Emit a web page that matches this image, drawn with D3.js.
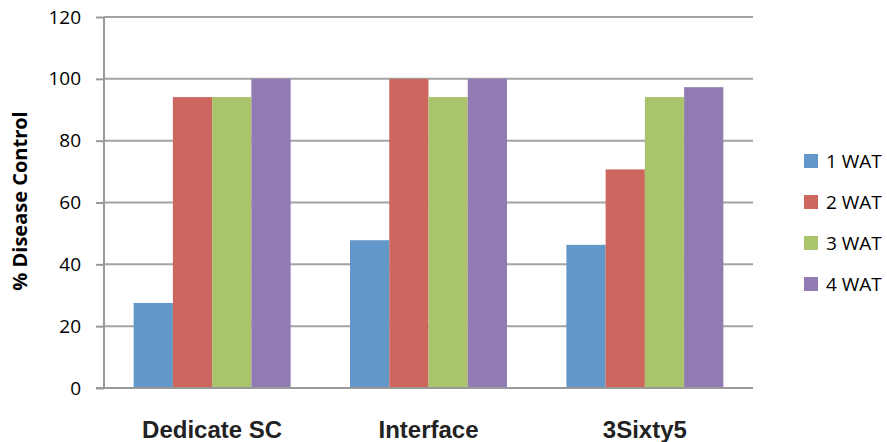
<!DOCTYPE html>
<html lang="en">
<head>
  <meta charset="UTF-8">
  <title>% Disease Control by product and weeks after treatment</title>
  <script src="https://cdnjs.cloudflare.com/ajax/libs/d3/7.8.5/d3.min.js"></script>
  <style>
    body { margin: 0; background: #fff; }
    #chart { width: 887px; height: 442px; }
    .tick-label { font-family: "Open Sans", Lato, sans-serif; font-size: 19px; fill: #000; }
    .cat-label { font-family: "Liberation Sans", Arial, sans-serif; font-weight: bold; font-size: 24px; fill: #222; }
    .y-title { font-family: "Open Sans", Lato, sans-serif; font-weight: bold; font-size: 20px; fill: #000; }
    .legend text { font-family: "Open Sans", Lato, sans-serif; font-size: 19px; fill: #000; }
  </style>
</head>
<body>
  <div id="chart"></div>
  <script>
    // data
    const products = ["Dedicate SC", "Interface", "3Sixty5"];
    const series = ["1 WAT", "2 WAT", "3 WAT", "4 WAT"];
    const wat1 = [27.5, 47.8, 46.3];
    const wat2 = [94.1, 100, 70.7];
    const wat3 = [94.1, 94.1, 94.1];
    const wat4 = [100, 100, 97.3];
    const yTicks = [0, 20, 40, 60, 80, 100, 120];
    const colors = ["#6197c9", "#cd665f", "#aac46b", "#927ab2"];

    const values = [wat1, wat2, wat3, wat4];
    const rows = products.map((p, i) => ({
      product: p,
      vals: series.map((s, j) => ({ key: s, value: values[j][i] }))
    }));

    const W = 887, H = 442;
    const plot = { left: 104, right: 753, top: 17, bottom: 388 };

    const svg = d3.select("#chart").append("svg")
      .attr("width", W)
      .attr("height", H);

    const x0 = d3.scaleBand()
      .domain(products)
      .range([plot.left, plot.right])
      .paddingInner(0.2745)
      .paddingOuter(0.137);

    const x1 = d3.scaleBand()
      .domain(series)
      .range([0, x0.bandwidth()]);

    const y = d3.scaleLinear()
      .domain([0, 120])
      .range([plot.bottom, plot.top]);

    const color = d3.scaleOrdinal().domain(series).range(colors);

    // y axis ticks + labels
    const yAxis = svg.append("g")
      .attr("transform", `translate(${plot.left},0)`)
      .call(d3.axisLeft(y).tickValues(yTicks).tickSize(8).tickPadding(15));
    yAxis.attr("font-size", null).attr("font-family", null);
    yAxis.select(".domain").remove();
    yAxis.selectAll(".tick line").attr("stroke", "#999").attr("stroke-width", 2);
    yAxis.selectAll(".tick text").attr("class", "tick-label");

    // gridlines
    svg.append("g")
      .selectAll("line")
      .data(yTicks.filter(d => d > 0))
      .join("line")
      .attr("x1", plot.left)
      .attr("x2", plot.right)
      .attr("y1", d => y(d))
      .attr("y2", d => y(d))
      .attr("stroke", "#a3a3a3")
      .attr("stroke-width", 2);

    // bars
    svg.append("g")
      .selectAll("g")
      .data(rows)
      .join("g")
      .attr("transform", d => `translate(${x0(d.product)},0)`)
      .selectAll("rect")
      .data(d => d.vals)
      .join("rect")
      .attr("x", d => x1(d.key))
      .attr("y", d => y(d.value))
      .attr("width", x1.bandwidth())
      .attr("height", d => y(0) - y(d.value))
      .attr("fill", d => color(d.key));

    // axis lines
    svg.append("line")
      .attr("x1", plot.left).attr("x2", plot.left)
      .attr("y1", plot.top).attr("y2", plot.bottom)
      .attr("stroke", "#999").attr("stroke-width", 2);
    svg.append("line")
      .attr("x1", plot.left - 8).attr("x2", plot.right)
      .attr("y1", plot.bottom).attr("y2", plot.bottom)
      .attr("stroke", "#999").attr("stroke-width", 2);

    // category labels
    svg.append("g")
      .selectAll("text")
      .data(products)
      .join("text")
      .attr("class", "cat-label")
      .attr("x", d => x0(d) + x0.bandwidth() / 2)
      .attr("y", 438)
      .attr("text-anchor", "middle")
      .text(d => d);

    // y title
    svg.append("text")
      .attr("class", "y-title")
      .attr("transform", "translate(27,201) rotate(-90)")
      .attr("text-anchor", "middle")
      .text("% Disease Control");

    // legend
    const legend = svg.append("g")
      .attr("class", "legend")
      .selectAll("g")
      .data(series)
      .join("g")
      .attr("transform", (d, i) => `translate(804,${154 + i * 41})`);
    legend.append("rect")
      .attr("width", 14)
      .attr("height", 14)
      .attr("fill", d => color(d));
    legend.append("text")
      .attr("x", 22)
      .attr("y", 14)
      .text(d => d);
  </script>
</body>
</html>
